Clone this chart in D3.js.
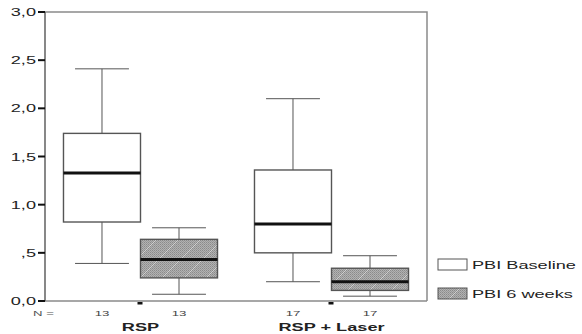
<!DOCTYPE html>
<html><head><meta charset="utf-8">
<script src="https://cdn.jsdelivr.net/npm/d3@7"></script>
<style>body{margin:0;background:#fff}svg{display:block;font-family:"Liberation Sans",Arial,sans-serif}</style>
</head><body>
<svg id="c" width="582" height="334"></svg>
<script>
const groups = ["RSP", "RSP + Laser"];
const series = ["PBI Baseline", "PBI 6 weeks"];
const nCounts = [[13, 13], [17, 17]];
// [min, q1, median, q3, max] per group per series
const rspStats = [[0.39, 0.82, 1.33, 1.74, 2.41], [0.07, 0.24, 0.43, 0.64, 0.76]];
const laserStats = [[0.20, 0.50, 0.80, 1.36, 2.10], [0.05, 0.11, 0.20, 0.34, 0.47]];
const yTicks = [0, 0.5, 1.0, 1.5, 2.0, 2.5, 3.0];
const yTickLabels = ["0,0", ",5", "1,0", "1,5", "2,0", "2,5", "3,0"];

const svg = d3.select("#c");
const L = 45, R = 427, T = 12, B = 301;
const SX = 1.65;

const defs = svg.append("defs");
const pat = defs.append("pattern").attr("id", "hatch").attr("patternUnits", "userSpaceOnUse")
  .attr("width", 2).attr("height", 2);
pat.append("rect").attr("width", 2).attr("height", 2).attr("fill", "#b2b2b2");
pat.append("rect").attr("width", 1).attr("height", 1).attr("fill", "#8a8a8a");
pat.append("rect").attr("x", 1).attr("y", 1).attr("width", 1).attr("height", 1).attr("fill", "#999");
const pat2 = defs.append("pattern").attr("id", "hatch2").attr("patternUnits", "userSpaceOnUse")
  .attr("width", 22).attr("height", 22);
pat2.append("rect").attr("width", 22).attr("height", 22).attr("fill", "url(#hatch)");
pat2.append("path").attr("d", "M0,22 L22,0").attr("stroke", "#dcdcdc").attr("stroke-width", 0.9).attr("opacity", 0.8);

const y = d3.scaleLinear().domain([0, 3]).range([B, T]);
const x0 = d3.scaleBand().domain(groups).range([L, R]).padding(0);
const x1 = d3.scaleBand().domain(series).range([0, x0.bandwidth()]).paddingInner(0).paddingOuter(0.24);

function txt(g, x, yy, s, anchor, size, weight, fill) {
  return g.append("text").attr("transform", `translate(${x},${yy}) scale(${SX},1)`)
    .attr("text-anchor", anchor).attr("font-size", size).attr("font-weight", weight || "normal")
    .attr("fill", fill || "#222").text(s);
}

// frame
svg.append("path").attr("d", `M${L},${T} L${R},${T} L${R},${B}`).attr("fill", "none")
  .attr("stroke", "#8a8a8a").attr("stroke-width", 1.5);
svg.append("line").attr("x1", L).attr("x2", R).attr("y1", B).attr("y2", B).attr("stroke", "#8a8a8a").attr("stroke-width", 1.5);
svg.append("line").attr("x1", L).attr("x2", L).attr("y1", T).attr("y2", B).attr("stroke", "#6a6a6a").attr("stroke-width", 1.6);

// y ticks
const yg = svg.append("g");
yTicks.forEach((t, i) => {
  yg.append("line").attr("x1", 38).attr("x2", L).attr("y1", y(t)).attr("y2", y(t)).attr("stroke", "#111").attr("stroke-width", 2);
  txt(yg, 36, y(t) + 4, yTickLabels[i], "end", 11);
});

// x tick markers
groups.forEach(g => {
  const cx = x0(g) + x0.bandwidth() / 2;
  svg.append("rect").attr("x", cx - 3).attr("y", B + 1).attr("width", 5).attr("height", 2.5).attr("fill", "#111");
});

// boxes
const allStats = [rspStats, laserStats];
groups.forEach((g, gi) => {
  series.forEach((s, si) => {
    const st = allStats[gi][si];
    const bx = x0(g) + x1(s), bw = x1.bandwidth(), cx = bx + bw / 2;
    const cw = bw * 0.7;
    const gg = svg.append("g");
    gg.append("line").attr("x1", cx).attr("x2", cx).attr("y1", y(st[0])).attr("y2", y(st[1])).attr("stroke", "#555").attr("stroke-width", 1);
    gg.append("line").attr("x1", cx).attr("x2", cx).attr("y1", y(st[3])).attr("y2", y(st[4])).attr("stroke", "#555").attr("stroke-width", 1);
    [st[0], st[4]].forEach(v => gg.append("line").attr("x1", cx - cw / 2).attr("x2", cx + cw / 2)
      .attr("y1", y(v)).attr("y2", y(v)).attr("stroke", "#555").attr("stroke-width", 1));
    gg.append("rect").attr("x", bx).attr("y", y(st[3])).attr("width", bw).attr("height", y(st[1]) - y(st[3]))
      .attr("fill", si === 0 ? "#fff" : "url(#hatch2)").attr("stroke", "#555").attr("stroke-width", 1.4);
    gg.append("line").attr("x1", bx).attr("x2", bx + bw).attr("y1", y(st[2])).attr("y2", y(st[2])).attr("stroke", "#111").attr("stroke-width", 3);
    txt(svg, cx, 316, String(nCounts[gi][si]), "middle", 8, "normal", "#444");
  });
  txt(svg, x0(g) + x0.bandwidth() / 2, 331, g, "middle", 11, "bold");
});
txt(svg, 33, 316, "N =", "start", 8, "normal", "#555");

// legend
const lg = svg.append("g");
series.forEach((s, i) => {
  const ly = 259 + i * 29;
  lg.append("rect").attr("x", 438).attr("y", ly).attr("width", 29).attr("height", 11)
    .attr("fill", i === 0 ? "#fff" : "url(#hatch2)").attr("stroke", "#555").attr("stroke-width", 1);
  txt(lg, 472, ly + 10, s, "start", 11);
});
</script>
</body></html>
